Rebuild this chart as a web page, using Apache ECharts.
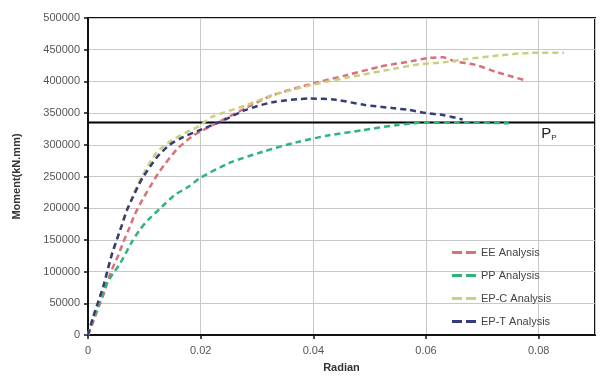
<!DOCTYPE html>
<html><head><meta charset="utf-8">
<script src="https://cdn.jsdelivr.net/npm/echarts@6/dist/echarts.min.js"></script>
<style>html,body{margin:0;padding:0;background:#fff}#c{width:603px;height:379px}</style>
</head><body><div id="c"></div>
<script>
var eeX = [0, 0.0009, 0.0018, 0.0028, 0.004, 0.0053, 0.0062, 0.0074, 0.0083, 0.0097, 0.0113, 0.0127, 0.0157, 0.0186, 0.0228, 0.028, 0.0327, 0.04, 0.046, 0.0517, 0.0575, 0.0605, 0.063, 0.065, 0.0688, 0.0724, 0.0775];
var eeY = [0, 20000, 42000, 65000, 98000, 124000, 145000, 170000, 190000, 214000, 238000, 258000, 292000, 314000, 334000, 358000, 378000, 397000, 410000, 423000, 432000, 437000, 438000, 432000, 426000, 415000, 402000];
var ppX = [0, 0.0009, 0.0034, 0.0057, 0.0078, 0.0092, 0.0106, 0.0131, 0.0154, 0.0177, 0.0198, 0.025, 0.031, 0.037, 0.0428, 0.0487, 0.0547, 0.06, 0.067, 0.0747];
var ppY = [0, 24000, 82000, 113000, 147000, 166000, 181000, 202000, 221000, 233000, 247000, 271000, 289000, 304000, 315000, 323000, 331000, 335000, 335000, 334000];
var epcX = [0, 0.0009, 0.0027, 0.0042, 0.006, 0.008, 0.0097, 0.0122, 0.0145, 0.0175, 0.0198, 0.022, 0.028, 0.0327, 0.04, 0.046, 0.055, 0.0588, 0.063, 0.067, 0.073, 0.0788, 0.0845];
var epcY = [0, 28000, 76000, 126000, 173000, 221000, 252000, 288000, 305000, 320000, 330000, 344000, 362000, 378000, 395000, 406000, 421000, 427000, 430000, 435000, 441000, 445000, 445000];
var eptX = [0, 0.0009, 0.0018, 0.0027, 0.0035, 0.0042, 0.0051, 0.006, 0.0069, 0.008, 0.0088, 0.0097, 0.0122, 0.0145, 0.0166, 0.0198, 0.0234, 0.028, 0.0327, 0.0393, 0.044, 0.049, 0.054, 0.057, 0.06, 0.063, 0.0665];
var eptY = [0, 28000, 52000, 76000, 103000, 126000, 150000, 173000, 197000, 218000, 233000, 248000, 280000, 300000, 311000, 323000, 336000, 355000, 367000, 373000, 371000, 363000, 358000, 355000, 350000, 347000, 340000];
var seriesNames = ['EE Analysis', 'PP Analysis', 'EP-C Analysis', 'EP-T Analysis'];
var seriesColors = ['#d9707a', '#2fb57c', '#c9cf7e', '#363c78'];
var ppLevel = 335000;

function pairs(xs, ys) { return xs.map(function (x, i) { return [x, ys[i]]; }); }
var datasets = [pairs(eeX, eeY), pairs(ppX, ppY), pairs(epcX, epcY), pairs(eptX, eptY)];

var font = 'Liberation Sans';
var chart = echarts.init(document.getElementById('c'), null, {renderer: 'canvas'});
var series = datasets.map(function (d, i) {
  return {
    name: seriesNames[i], type: 'line', data: d, smooth: 0.25, showSymbol: false, symbol: 'none',
    lineStyle: {color: seriesColors[i], width: 2.5, type: [6, 4]},
    itemStyle: {color: seriesColors[i]}, z: 3 + (i === 3 ? 1 : 0)
  };
});
series.push({
  name: 'Pp', type: 'line', data: [[0, ppLevel], [0.09, ppLevel]], showSymbol: false, symbol: 'none',
  lineStyle: {color: '#000', width: 2}, z: 2, silent: true,
  markPoint: {
    symbol: 'circle', symbolSize: 2, itemStyle: {color: 'rgba(0,0,0,0)'},
    data: [{coord: [0.0818, ppLevel],
      label: {show: true, position: 'bottom', distance: 3,
        formatter: '{a|P}{b|P}',
        rich: {a: {fontFamily: font, fontSize: 15, color: '#222'}, b: {fontFamily: font, fontSize: 8, color: '#222', verticalAlign: 'bottom', padding: [7, 0, 0, 0]}}}}]
  }
});

chart.setOption({
  backgroundColor: '#fff',
  animation: false,
  grid: {left: 88, top: 18, right: 8, bottom: 44, show: true, borderColor: '#111', borderWidth: 2, backgroundColor: 'transparent'},
  legend: {
    data: seriesNames, orient: 'vertical', left: 450, top: 245, itemGap: 12,
    itemWidth: 24, itemHeight: 8, icon: 'path://M0,0 L10,0 L10,3 L0,3 Z M14,0 L24,0 L24,3 L14,3 Z',
    textStyle: {fontFamily: font, fontSize: 11, color: '#444'}, padding: [2, 4, 2, 2]
  },
  xAxis: {
    type: 'value', min: 0, max: 0.09, interval: 0.02,
    name: 'Radian', nameLocation: 'middle', nameGap: 27,
    nameTextStyle: {fontFamily: font, fontSize: 11, fontWeight: 'bold', color: '#333'},
    axisLine: {show: true, lineStyle: {color: '#111', width: 2}},
    axisTick: {show: true, length: 4, lineStyle: {color: '#111', width: 1.5}},
    axisLabel: {fontFamily: font, fontSize: 11, color: '#555', margin: 10, showMaxLabel: false,
      formatter: function (v) { return v === 0 ? '0' : v.toFixed(2); }},
    splitLine: {show: true, lineStyle: {color: '#c8c8c8', width: 1}}
  },
  yAxis: {
    type: 'value', min: 0, max: 500000, interval: 50000,
    name: 'Moment(kN.mm)', nameLocation: 'middle', nameGap: 66, nameRotate: 90,
    nameTextStyle: {fontFamily: font, fontSize: 11, fontWeight: 'bold', color: '#333'},
    axisLine: {show: true, lineStyle: {color: '#111', width: 2}},
    axisTick: {show: true, length: 4, lineStyle: {color: '#111', width: 1.5}},
    axisLabel: {fontFamily: font, fontSize: 11, color: '#555', margin: 8,
      formatter: function (v) { return String(v); }},
    splitLine: {show: true, lineStyle: {color: '#c8c8c8', width: 1}}
  },
  series: series
});
</script></body></html>
